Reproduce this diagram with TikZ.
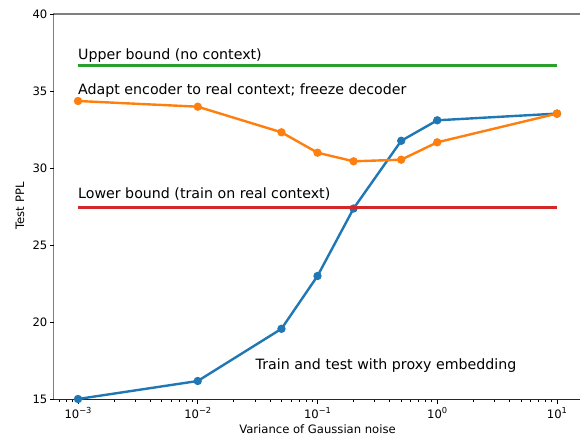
\documentclass[tikz,border=0pt]{standalone}
\usepackage{fontspec}
\setmainfont{DejaVu Sans}
\definecolor{mblue}{HTML}{1F77B4}
\definecolor{morange}{HTML}{FF7F0E}
\definecolor{mgreen}{HTML}{2CA02C}
\definecolor{mred}{HTML}{D62728}
\definecolor{spinegray}{HTML}{7F7F7F}
\newcommand\tenpow[1]{10\raisebox{0.42em}{\fontsize{8.3}{9}\selectfont #1}}
\begin{document}
\begin{tikzpicture}[x=1pt,y=-1pt,
  ticklab/.style={font=\fontsize{11.6}{12}\selectfont, inner sep=0},
  annot/.style={font=\fontsize{14.2}{15}\selectfont, inner sep=0, anchor=base west},
  series/.style={line width=2.4pt, line join=round, line cap=round},
  spine/.style={line width=1.1pt},
  tickmark/.style={line width=0.9pt},
  dot/.style={circle, fill=#1, inner sep=0, minimum size=8.4pt}]
\useasboundingbox (0,0) rectangle (580,435);
% spines
\draw[spine, spinegray] (53.5,399.5) -- (53.5,14) -- (580,14);
\draw[spine, black!85] (53,399.5) -- (580,399.5);
% y ticks
\foreach \yy/\lab in {14/40, 91/35, 168/30, 245/25, 322/20, 399/15} {
  \draw[tickmark] (53.5,\yy) -- (50,\yy);
  \node[ticklab, anchor=east] (yt\lab) at (47.5,\yy) {\lab};
}
% x major ticks
\foreach \xx/\lab in {78/{−3}, 197.75/{−2}, 317.5/{−1}, 437.25/{0}, 557/{1}} {
  \draw[tickmark] (\xx,399.5) -- (\xx,403.5);
  \node[ticklab, anchor=base] at (\xx,418) {\tenpow{\lab}};
}
% x minor ticks
\foreach \d in {-41.75,78,197.75,317.5,437.25} {
  \foreach \m in {36.05,57.14,72.10,83.70,93.18,101.20,108.15,114.27} {
    \pgfmathsetmacro\xx{\d+\m}
    \ifdim\xx pt>54pt
      \draw[line width=0.7pt] (\xx,399.5) -- (\xx,401.8);
    \fi
  }
}
% axis labels
\node[ticklab, anchor=base] (xlab) at (317.5,433.3) {Variance of Gaussian noise};
\node[ticklab, anchor=base, rotate=90] (ylab) at (24,206) {Test PPL};
% blue series
\coordinate (b1) at (78,399);
\coordinate (b2) at (197.75,381);
\coordinate (b3) at (281.45,328.8);
\coordinate (b4) at (317.5,276);
\coordinate (b5) at (353.55,208.5);
\coordinate (b6) at (401.2,140.8);
\coordinate (b7) at (437.25,120.3);
\coordinate (b8) at (557,113.6);
\draw[series, mblue] (b1) -- (b2) -- (b3) -- (b4) -- (b5) -- (b6) -- (b7) -- (b8);
\foreach \i in {1,...,8} \node[dot=mblue] (bd\i) at (b\i) {};
% orange series
\coordinate (o1) at (78,101);
\coordinate (o2) at (197.75,106.7);
\coordinate (o3) at (281.45,132.3);
\coordinate (o4) at (317.5,152.7);
\coordinate (o5) at (353.55,161.3);
\coordinate (o6) at (401.2,159.7);
\coordinate (o7) at (437.25,142.3);
\coordinate (o8) at (557,113.6);
\draw[series, morange] (o1) -- (o2) -- (o3) -- (o4) -- (o5) -- (o6) -- (o7) -- (o8);
\foreach \i in {1,...,8} \node[dot=morange] (od\i) at (o\i) {};
% bounds
\coordinate (gL) at (78,65.7);
\coordinate (gR) at (557,65.7);
\coordinate (rL) at (78,207.4);
\coordinate (rR) at (557,207.4);
\draw[series, mgreen, line cap=butt] (gL) -- (gR);
\draw[series, mred, line cap=butt] (rL) -- (rR);
% annotations
\node[annot] (t1) at (78,60) {Upper bound (no context)};
\node[annot] (t2) at (78,94.3) {Adapt encoder to real context; freeze decoder};
\node[annot] (t3) at (78,199) {Lower bound (train on real context)};
\node[annot] (t4) at (255.5,369) {Train and test with proxy embedding};
\end{tikzpicture}
\end{document}
